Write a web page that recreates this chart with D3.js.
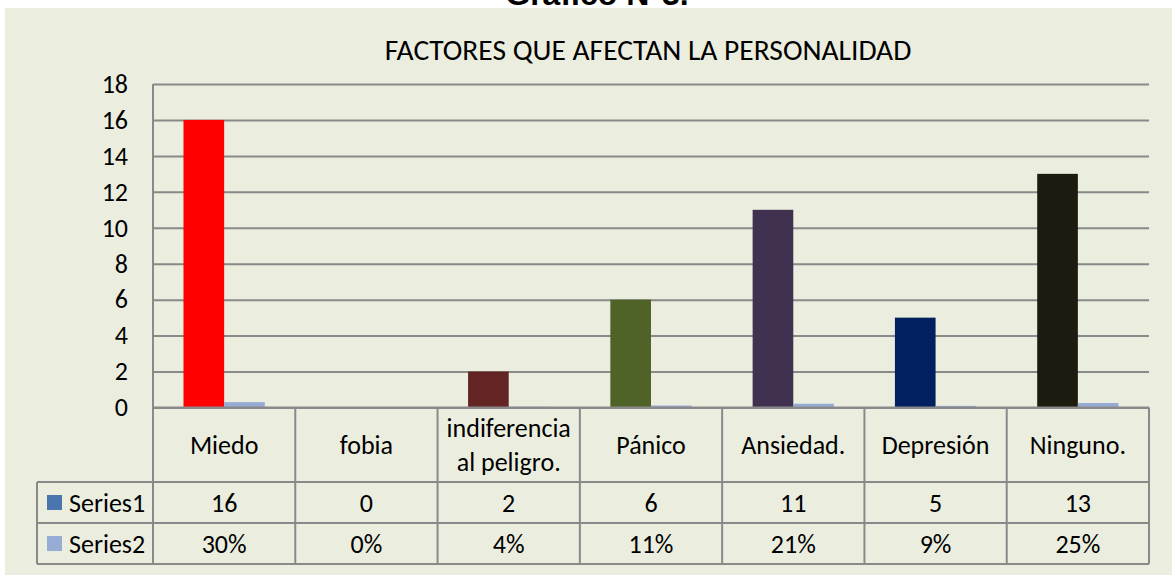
<!DOCTYPE html>
<html>
<head>
<meta charset="utf-8">
<script src="https://cdn.jsdelivr.net/npm/d3@7"></script>
<style>
  html, body { margin: 0; padding: 0; background: #ffffff; }
  svg { display: block; }
  text { font-family: Carlito, Calibri, 'Open Sans', sans-serif; fill: #000; }
</style>
</head>
<body>
<svg id="chart" width="1172" height="575"></svg>
<script>
// ---- data ----
const pageTitle = "Gráfico N°3.";
const chartTitle = "FACTORES QUE AFECTAN LA PERSONALIDAD";
const categories = ["Miedo", "fobia", "indiferencia al peligro.", "Pánico", "Ansiedad.", "Depresión", "Ninguno."];
const seriesNames = ["Series1", "Series2"];
const series1 = [16, 0, 2, 6, 11, 5, 13];
const series2 = [0.30, 0, 0.04, 0.11, 0.21, 0.09, 0.25];
const yTicks = [0, 2, 4, 6, 8, 10, 12, 14, 16, 18];
const series1Colors = ["#ff0000", "#c0504d", "#632523", "#4f6228", "#403151", "#002060", "#1d1b10"];
const legendColors = ["#4a76ad", "#96acd4"];
const series2Color = "#96acd4";

// ---- layout ----
const W = 1172, H = 575;
const plotLeft = 153, plotRight = 1149, plotTop = 84, plotBottom = 407.5;
const tableLeft = 37;
const rowCat = [407.5, 482], row1 = [482, 523], row2 = [523, 564];
const gridColor = "#898989";
const fontSize = 26;
const fontFam = "Carlito, Calibri, 'Open Sans', sans-serif";

const svg = d3.select("#chart");

// background
svg.append("rect").attr("x", 0).attr("y", 0).attr("width", W).attr("height", H).attr("fill", "#ffffff");
svg.append("rect").attr("x", 5).attr("y", 8).attr("width", W - 5).attr("height", H - 8).attr("fill", "#ebeedf");

// page title (clipped at top, as in the original)
svg.append("text")
  .attr("x", 597).attr("y", 5)
  .attr("text-anchor", "middle")
  .style("font-family", "'Liberation Sans', Arial, sans-serif")
  .style("font-weight", "bold")
  .style("font-size", "32px")
  .text(pageTitle);

// chart title
svg.append("text")
  .attr("x", 648).attr("y", 60)
  .attr("text-anchor", "middle")
  .style("font-size", "29.5px")
  .text(chartTitle);

// scales
const x = d3.scaleBand().domain(categories).range([plotLeft, plotRight]).paddingInner(0).paddingOuter(0);
const y = d3.scaleLinear().domain([0, 18]).range([plotBottom, plotTop]);
const bw = x.bandwidth() / 3.5;

// gridlines
const grid = svg.append("g").attr("transform", `translate(${plotLeft},0)`)
  .call(d3.axisLeft(y).tickValues(yTicks).tickSize(-(plotRight - plotLeft)).tickFormat(""));
grid.select(".domain").remove();
grid.selectAll("line").attr("stroke", gridColor).attr("stroke-width", 2);

// y axis labels
const yAxis = svg.append("g").attr("transform", `translate(${plotLeft},0)`)
  .call(d3.axisLeft(y).tickValues(yTicks).tickSize(0).tickPadding(25).tickFormat(d3.format("d")));
yAxis.select(".domain").remove();
yAxis.selectAll("text").style("font-size", fontSize + "px").style("font-family", fontFam).attr("fill", "#000");

// bars series1
svg.append("g").selectAll("rect").data(categories).join("rect")
  .attr("x", d => x(d) + x.bandwidth() / 2 - bw)
  .attr("width", bw)
  .attr("y", (d, i) => y(series1[i]))
  .attr("height", (d, i) => y(0) - y(series1[i]))
  .attr("fill", (d, i) => series1Colors[i]);

// bars series2
svg.append("g").selectAll("rect").data(categories).join("rect")
  .attr("x", d => x(d) + x.bandwidth() / 2)
  .attr("width", bw)
  .attr("y", (d, i) => y(series2[i]))
  .attr("height", (d, i) => y(0) - y(series2[i]))
  .attr("fill", series2Color);

// table lines
const lines = svg.append("g").attr("stroke", gridColor).attr("stroke-width", 2).attr("fill", "none");
lines.append("line").attr("x1", plotLeft).attr("x2", plotRight).attr("y1", plotBottom).attr("y2", plotBottom);
[row1[0], row2[0], row2[1]].forEach(yy => {
  lines.append("line").attr("x1", tableLeft).attr("x2", plotRight).attr("y1", yy).attr("y2", yy);
});
lines.append("line").attr("x1", plotLeft).attr("x2", plotLeft).attr("y1", plotTop).attr("y2", row2[1]);
lines.append("line").attr("x1", tableLeft).attr("x2", tableLeft).attr("y1", row1[0]).attr("y2", row2[1]);
categories.forEach(c => {
  const xx = x(c) + x.bandwidth();
  lines.append("line").attr("x1", xx).attr("x2", xx).attr("y1", plotBottom).attr("y2", row2[1]);
});

// category labels (wrapped)
const fmtPct = d3.format(".0%");
function wrapWords(text, maxW) {
  const words = text.split(" ");
  const tmp = svg.append("text").style("font-size", fontSize + "px");
  const out = []; let cur = "";
  words.forEach(w => {
    const test = cur ? cur + " " + w : w;
    tmp.text(test);
    if (tmp.node().getComputedTextLength() > maxW && cur) { out.push(cur); cur = w; }
    else cur = test;
  });
  if (cur) out.push(cur);
  tmp.remove();
  return out;
}
const lineH = 34;
categories.forEach(c => {
  const cx = x(c) + x.bandwidth() / 2;
  const cy = (rowCat[0] + rowCat[1]) / 2;
  const parts = wrapWords(c, x.bandwidth() - 8);
  const t = svg.append("text").attr("text-anchor", "middle").style("font-size", fontSize + "px");
  parts.forEach((p, i) => {
    t.append("tspan").attr("x", cx)
      .attr("y", cy + (i - (parts.length - 1) / 2) * lineH)
      .attr("dy", "0.35em").text(p);
  });
});

// values rows
const rows = [
  { name: seriesNames[0], vals: series1.map(d3.format("d")), r: row1, color: legendColors[0] },
  { name: seriesNames[1], vals: series2.map(fmtPct), r: row2, color: legendColors[1] }
];
rows.forEach(row => {
  const cy = (row.r[0] + row.r[1]) / 2;
  svg.append("rect").attr("x", 47).attr("y", cy - 7.5).attr("width", 15).attr("height", 15).attr("fill", row.color);
  svg.append("text").attr("x", 69).attr("y", cy).attr("dy", "0.35em").style("font-size", fontSize + "px").text(row.name);
  categories.forEach((c, i) => {
    svg.append("text").attr("x", x(c) + x.bandwidth() / 2).attr("y", cy).attr("dy", "0.35em")
      .attr("text-anchor", "middle").style("font-size", fontSize + "px").text(row.vals[i]);
  });
});
</script>
</body>
</html>
